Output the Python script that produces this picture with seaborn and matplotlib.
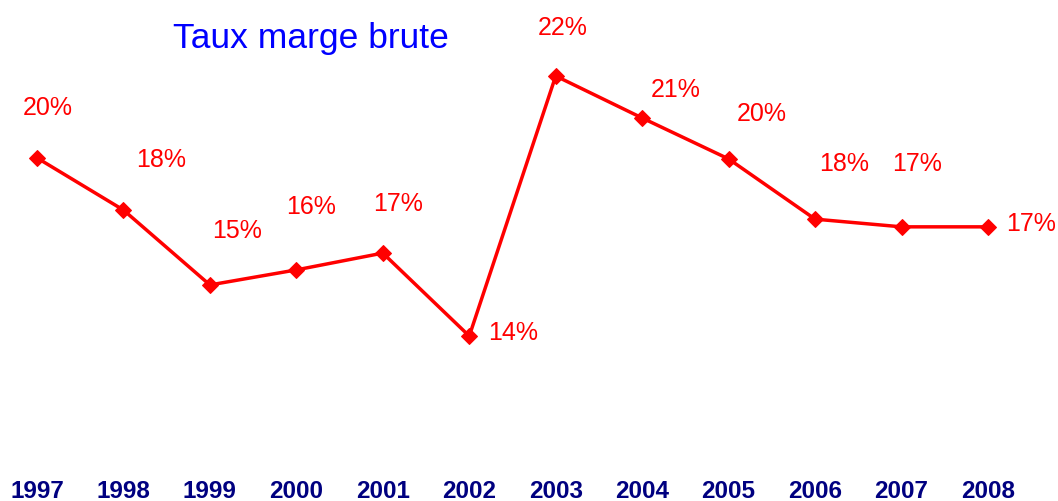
import matplotlib
matplotlib.use("Agg")
import matplotlib.pyplot as plt
import seaborn as sns
import pandas as pd

years = ["1997", "1998", "1999", "2000", "2001", "2002",
         "2003", "2004", "2005", "2006", "2007", "2008"]
taux = [19.66, 18.17, 16.03, 16.46, 16.94, 14.57,
        22.00, 20.80, 19.63, 17.91, 17.69, 17.69]
labels = ["20%", "18%", "15%", "16%", "17%", "14%",
          "22%", "21%", "20%", "18%", "17%", "17%"]
title = "Taux marge brute"

# label placement offsets in pixels (layout only)
label_offsets = [(11, 50), (38, 50), (27, 54), (15, 63), (15, 49), (44, 3),
                 (7, 48), (34, 28), (33, 45), (29, 55), (16, 63), (43, 3)]

sns.set_theme(style="white")
plt.rcParams["font.family"] = ["Liberation Sans", "DejaVu Sans"]

df = pd.DataFrame({"idx": range(len(years)), "taux": taux})

fig = plt.figure(figsize=(10.58, 5.01), dpi=100)
fig.patch.set_facecolor("white")
ax = fig.add_axes([0, 26 / 501, 1, 475 / 501])
ax.set_facecolor("white")

sns.lineplot(data=df, x="idx", y="taux", ax=ax, color="#FF0000",
             linewidth=2.5, marker="D", markersize=8,
             markeredgecolor="#FF0000", markerfacecolor="#FF0000")

for i, (v, lab) in enumerate(zip(taux, labels)):
    dx, dy = label_offsets[i]
    ax.annotate(lab, xy=(i, v), xytext=(dx, dy), textcoords="offset pixels",
                ha="center", va="center", color="#FF0000", fontsize=18)

ax.set_xlim(-0.428, 11.81)
ax.set_ylim(10.6, 24.171)
ax.set_xticks(range(len(years)))
ax.set_xticklabels(years, fontsize=17.5, fontweight="bold", color="#000080")
ax.tick_params(axis="x", length=0, pad=3.5)
ax.set_yticks([])
ax.set_xlabel("")
ax.set_ylabel("")
for s in ax.spines.values():
    s.set_visible(False)

fig.text(311 / 1058, 1 - 48 / 501, title, ha="center", va="baseline",
         color="#0000FF", fontsize=25.5)

fig.savefig("out.png", dpi=100)
